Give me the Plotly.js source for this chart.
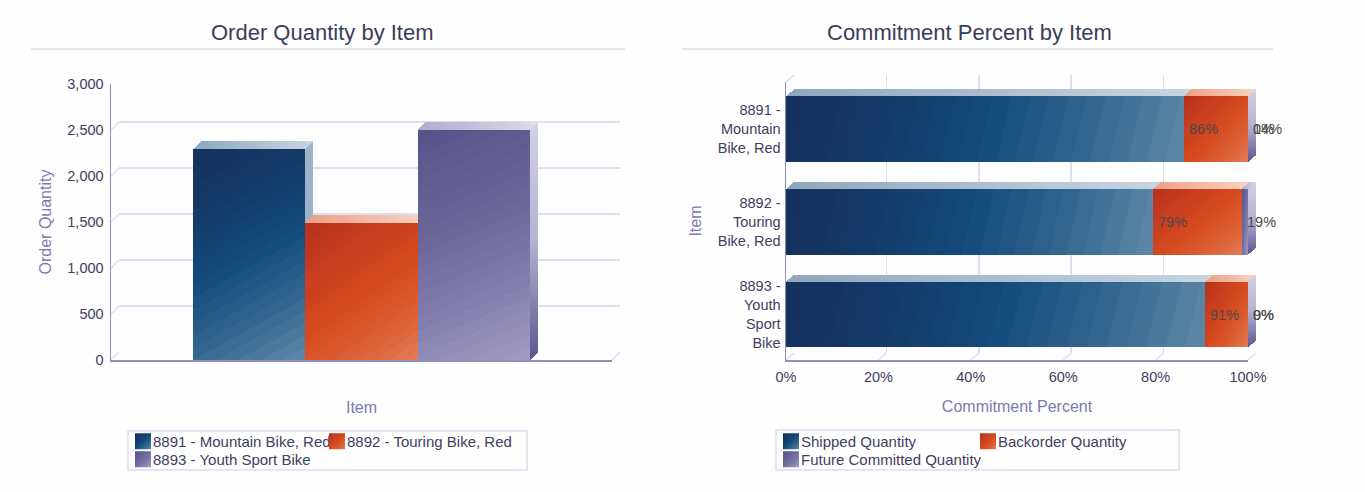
<!DOCTYPE html>
<html>
<head>
<meta charset="utf-8">
<script src="https://cdn.plot.ly/plotly-3.0.1.min.js"></script>
<style>html,body{margin:0;padding:0;background:#fefefe;overflow:hidden}</style>
</head>
<body>
<div id="chart" style="width:1365px;height:492px"></div>
<script>
// ---- data ----
const orderItems = ['8891 - Mountain Bike, Red', '8892 - Touring Bike, Red', '8893 - Youth Sport Bike'];
const orderQuantity = [2290, 1490, 2500];
const quantityTicks = [0, 500, 1000, 1500, 2000, 2500, 3000];
const rowLabels = ['8891 -<br>Mountain<br>Bike, Red', '8892 -<br>Touring<br>Bike, Red', '8893 -<br>Youth<br>Sport<br>Bike'];
const shippedPct = [86.1, 79.4, 90.7];
const backorderPct = [13.9, 19.2, 9.3];
const futurePct = [0, 1.4, 0];
const percentTicks = [0, 20, 40, 60, 80, 100];
const commitSeries = ['Shipped Quantity', 'Backorder Quantity', 'Future Committed Quantity'];

// ---- style ----
const W = 1365, H = 492;
const FONT = '"Liberation Sans", Arial, sans-serif';
const TEXT = '#3e3e5e', AXT = '#7c7aae', GRID = '#dddeee', AXIS = '#8d8dbd';
const BLUE = '#14406e', ORANGE = '#d0431f', PURPLE = '#6f6a9e';
const px = (a, b) => [a / W, b / W];
const py = (top, bottom) => [(H - bottom) / H, (H - top) / H];
const L = {x0: 111, x1: 612, top: 84, bot: 360, dx: 8, dy: 8};
const R = {x0: 786, x1: 1248, top: 82, bot: 360, dx: 8, dy: 7};

const font = (size, color) => ({family: FONT, size, color});

const traces = [
  {type: 'scatter', mode: 'none', xaxis: 'x', yaxis: 'y', x: [0], y: [0], showlegend: false, hoverinfo: 'skip'},
  {type: 'scatter', mode: 'none', xaxis: 'x2', yaxis: 'y2', x: [0], y: [0], showlegend: false, hoverinfo: 'skip'}
];
[BLUE, ORANGE, PURPLE].forEach((c, i) => traces.push({
  type: 'bar', xaxis: 'x3', yaxis: 'y3', name: orderItems[i],
  x: [orderItems[i]], y: [orderQuantity[i]], width: 1,
  marker: {color: c, line: {width: 0}}, cliponaxis: false,
  legend: i < 2 ? 'legend' : 'legend2', hoverinfo: 'skip'
}));
[shippedPct, backorderPct, futurePct].forEach((vals, i) => traces.push({
  type: 'bar', orientation: 'h', xaxis: 'x4', yaxis: 'y4', name: commitSeries[i],
  x: vals, y: rowLabels, width: 0.71,
  marker: {color: [BLUE, ORANGE, PURPLE][i], line: {width: 0}}, cliponaxis: false,
  legend: i < 2 ? 'legend3' : 'legend4', hoverinfo: 'skip'
}));

const annotations = [];
const titleAnn = (text, cx) => annotations.push({xref: 'paper', yref: 'paper', x: cx / W, y: (H - 33) / H,
  text, showarrow: false, xanchor: 'center', yanchor: 'middle', font: font(22, '#3c3c5c')});
titleAnn('Order Quantity by Item', 322);
titleAnn('Commitment Percent by Item', 969);
rowLabels.forEach((row, r) => {
  let cum = 0;
  [shippedPct, backorderPct, futurePct].forEach(vals => {
    cum += vals[r];
    annotations.push({xref: 'x4', yref: 'y4', x: cum, y: row, text: Math.floor(vals[r] + 0.4) + '%', showarrow: false,
      xanchor: 'left', xshift: 3, font: font(14.5, '#4a4a4a')});
  });
});

const shapes = [];
const rect = (x0, x1, y0, y1, color) => shapes.push({type: 'rect', xref: 'paper', yref: 'paper', layer: 'below',
  x0: x0 / W, x1: x1 / W, y0: (H - y1) / H, y1: (H - y0) / H, line: {color, width: 1.5}, fillcolor: 'rgba(0,0,0,0)'});
const rule = (x0, x1) => shapes.push({type: 'line', xref: 'paper', yref: 'paper', layer: 'below',
  x0: x0 / W, x1: x1 / W, y0: (H - 49) / H, y1: (H - 49) / H, line: {color: '#dcdcee', width: 1.5}});
rule(31, 625); rule(682, 1273);
rect(128, 527, 431, 470, '#dcdcee');
rect(776, 1179, 430, 470, '#dcdcee');
// slanted links from the front axes to the back wall
const stub = (xPaper, yVal, yref, d) => shapes.push({type: 'line', layer: 'below', xref: 'paper', yref,
  xsizemode: 'pixel', xanchor: xPaper, x0: 0, x1: d.dx, ysizemode: 'pixel', yanchor: yVal, y0: 0, y1: d.dy,
  line: {color: GRID, width: 1.5}});
quantityTicks.forEach(t => stub(L.x0 / W, t, 'y3', L));
stub(L.x1 / W, 0, 'y3', L);
percentTicks.forEach(t => stub((R.x0 + (R.x1 - R.x0) * t / 100) / W, (H - R.bot) / H, 'paper', R));
stub(R.x0 / W, (H - R.top) / H, 'paper', R);

const hiddenAxis = {showticklabels: false, showgrid: false, zeroline: false, showline: false, ticks: ''};
const layout = {
  width: W, height: H, margin: {l: 0, r: 0, t: 0, b: 0, pad: 0},
  paper_bgcolor: '#fefefe', plot_bgcolor: 'rgba(0,0,0,0)', barmode: 'stack', bargap: 0,
  font: font(14.5, TEXT), annotations, shapes, showlegend: true,
  // back walls
  xaxis: {...hiddenAxis, domain: px(L.x0 + L.dx, L.x1 + L.dx), anchor: 'y', range: [0, 1]},
  yaxis: {...hiddenAxis, domain: py(L.top - L.dy, L.bot - L.dy), anchor: 'x', range: [0, 3000],
    tickvals: quantityTicks, showgrid: true, gridcolor: GRID, gridwidth: 1.5},
  xaxis2: {...hiddenAxis, domain: px(R.x0 + R.dx, R.x1 + R.dx), anchor: 'y2', range: [0, 100],
    tickvals: percentTicks, showgrid: true, gridcolor: GRID, gridwidth: 1.5},
  yaxis2: {...hiddenAxis, domain: py(R.top - R.dy, R.bot - R.dy), anchor: 'x2', range: [0, 1]},
  // front axes
  xaxis3: {domain: px(L.x0, L.x1), anchor: 'y3', type: 'category', categoryorder: 'array', categoryarray: orderItems,
    range: [-1.23, 3.23], showticklabels: false, ticks: '', showgrid: false, zeroline: false,
    showline: true, linecolor: AXIS, linewidth: 1.5,
    title: {text: 'Item', font: font(16, AXT), standoff: 41}},
  yaxis3: {domain: py(L.top, L.bot), anchor: 'x3', range: [0, 3000], tickvals: quantityTicks, tickformat: ',d',
    showgrid: false, zeroline: false, showline: true, linecolor: AXIS, linewidth: 1.5,
    ticks: 'outside', ticklen: 3, tickcolor: 'rgba(0,0,0,0)', tickfont: font(14.5, TEXT),
    title: {text: 'Order Quantity', font: font(16, AXT), standoff: 11}},
  xaxis4: {domain: px(R.x0, R.x1), anchor: 'y4', range: [0, 100], tickmode: 'array', tickvals: percentTicks,
    ticktext: percentTicks.map(t => t + '%'),
    showgrid: false, zeroline: false, showline: true, linecolor: AXIS, linewidth: 1.5,
    ticks: 'outside', ticklen: 3, tickcolor: 'rgba(0,0,0,0)', tickfont: font(14.5, TEXT),
    title: {text: 'Commitment Percent', font: font(16, AXT), standoff: 17}},
  yaxis4: {domain: py(R.top, R.bot), anchor: 'x4', type: 'category', autorange: false, range: [2.49, -0.51],
    categoryorder: 'array', categoryarray: rowLabels, showgrid: false, zeroline: false,
    showline: true, linecolor: AXIS, linewidth: 1.5, ticks: 'outside', ticklen: 1, tickcolor: 'rgba(0,0,0,0)',
    tickfont: font(14.5, TEXT), title: {text: 'Item', font: font(16, AXT), standoff: 12}}
};
const legendBase = {orientation: 'h', traceorder: 'normal', bgcolor: 'rgba(0,0,0,0)', borderwidth: 0,
  xanchor: 'left', yanchor: 'middle', itemclick: false, itemdoubleclick: false, font: font(15, TEXT),
  entrywidthmode: 'pixels', entrywidth: 149};
layout.legend = {...legendBase, x: 113 / W, y: (H - 441.5) / H};
layout.legend2 = {...legendBase, x: 113 / W, y: (H - 459.5) / H};
layout.legend3 = {...legendBase, x: 761 / W, y: (H - 441.5) / H, entrywidth: 152};
layout.legend4 = {...legendBase, x: 761 / W, y: (H - 459.5) / H};

// ---- shading of the bars: gradients and faces are painted on the bars Plotly has placed ----
const SVGNS = 'http://www.w3.org/2000/svg';
const RAMPS = {
  blue: [['#15305c', 0], ['#133d6a', .3], ['#124b7c', .5], ['#33668f', .75], ['#5f88a8', 1]],
  orange: [['#b5301d', 0], ['#c93f1f', .3], ['#d5481f', .5], ['#dd6238', .8], ['#e57c57', 1]],
  purple: [['#57528a', 0], ['#6b6699', .4], ['#837daf', .7], ['#a29cc2', 1]]
};
const SMOOTH = {
  blueTop: [['#8ea7bf', 0], ['#c8d5e1', 1]],
  orangeTop: [['#ee9f85', 0], ['#f8d2c2', 1]],
  purpleTop: [['#aeaacd', 0], ['#dcdaea', 1]],
  blueSide: [['#9db3ca', 0], ['#9db3ca', 1]],
  purpleSide: [['#d2d2e4', 0], ['#b4b2d2', .5], ['#5a558f', 1]]
};
const hexRgb = h => [1, 3, 5].map(i => parseInt(h.slice(i, i + 2), 16));
function rampAt(stops, t) {
  for (let i = 1; i < stops.length; i++) {
    if (t <= stops[i][1]) {
      const a = hexRgb(stops[i - 1][0]), b = hexRgb(stops[i][0]);
      const f = (t - stops[i - 1][1]) / (stops[i][1] - stops[i - 1][1]);
      return 'rgb(' + a.map((v, k) => Math.round(v + (b[k] - v) * f)).join(',') + ')';
    }
  }
  return stops[stops.length - 1][0];
}
// the reference's fills show faint stepped bands
function banded(stops, n) {
  const out = [];
  for (let i = 0; i < n; i++) {
    const c = rampAt(stops, (i + 0.5) / n);
    out.push([c, i / n], [c, (i + 1) / n]);
  }
  return out;
}
function addGradient(defs, id, stops, x2, y2) {
  const g = document.createElementNS(SVGNS, 'linearGradient');
  g.setAttribute('id', id);
  g.setAttribute('x1', 0); g.setAttribute('y1', 0); g.setAttribute('x2', x2); g.setAttribute('y2', y2);
  stops.forEach(([c, o]) => {
    const s = document.createElementNS(SVGNS, 'stop');
    s.setAttribute('offset', o); s.setAttribute('stop-color', c);
    g.appendChild(s);
  });
  defs.appendChild(g);
}
function face(parent, pts, fill) {
  const p = document.createElementNS(SVGNS, 'polygon');
  p.setAttribute('points', pts.map(a => a.join(',')).join(' '));
  p.style.fill = 'url(#' + fill + ')';
  parent.appendChild(p);
}
// gradient vector reaching t=1 exactly at the far corner, with the given slope
const vec = ratio => { const a = (1 + ratio) / (1 + ratio * ratio); return [a, a * ratio]; };
const colourName = {[BLUE]: 'blue', [ORANGE]: 'orange', [PURPLE]: 'purple'};

Plotly.newPlot('chart', traces, layout, {staticPlot: true, displayModeBar: false}).then(gd => {
  const svg = gd.querySelector('svg.main-svg');
  const defs = svg.querySelector('defs');
  Object.entries(SMOOTH).forEach(([id, stops]) => addGradient(defs, id, stops, id.endsWith('Side') ? 0 : 1, id.endsWith('Side') ? 1 : 0));
  const tall = {blue: 3.4, orange: 1.75, purple: 5};
  const wide = {blue: 0.04, orange: 0.9, purple: 0.9};
  Object.entries(RAMPS).forEach(([id, stops]) => {
    const bands = banded(stops, 22);
    addGradient(defs, id + 'Tall', bands, ...vec(tall[id]));
    addGradient(defs, id + 'Wide', bands, ...vec(wide[id]));
    addGradient(defs, id + 'Key', stops, 1, 1);
  });
  gd.querySelectorAll('.barlayer .trace.bars').forEach(tr => {
    const trace = tr.__data__[0].trace;
    const name = colourName[trace.marker.color];
    const isRight = trace.xaxis === 'x4';
    const d = isRight ? R : L;
    tr.querySelectorAll('.point').forEach(pt => {
      const path = pt.querySelector('path');
      if (!path || !path.getAttribute('d') || path.getAttribute('d') === 'M0,0Z') return;
      const b = path.getBBox();
      if (b.width < 0.01 || b.height < 0.01) return;
      path.style.fill = 'url(#' + name + (isRight ? 'Wide' : 'Tall') + ')';
      const x0 = b.x, x1 = b.x + b.width, y0 = b.y, y1 = b.y + b.height;
      const side = (!isRight && name === 'blue') ? 'blueSide' : 'purpleSide';
      face(pt, [[x1, y0], [x1 + d.dx, y0 - d.dy], [x1 + d.dx, y1 - d.dy], [x1, y1]], side);
      face(pt, [[x0, y0], [x0 + d.dx, y0 - d.dy], [x1 + d.dx, y0 - d.dy], [x1, y0]], name + 'Top');
    });
  });
  gd.querySelectorAll('g[class^="legend"] .traces').forEach(tr => {
    const trace = tr.__data__[0].trace;
    const bar = tr.querySelector('.legendpoints path');
    if (!bar) return;
    bar.setAttribute('d', 'M8,8H-8V-8H8Z');
    bar.setAttribute('transform', 'translate(30,0)');
    bar.style.fill = 'url(#' + colourName[trace.marker.color] + 'Key)';
  });
  gd.querySelectorAll('g[class^="legend"] .scrollbox').forEach(s => s.removeAttribute('clip-path'));
});
</script>
</body>
</html>
